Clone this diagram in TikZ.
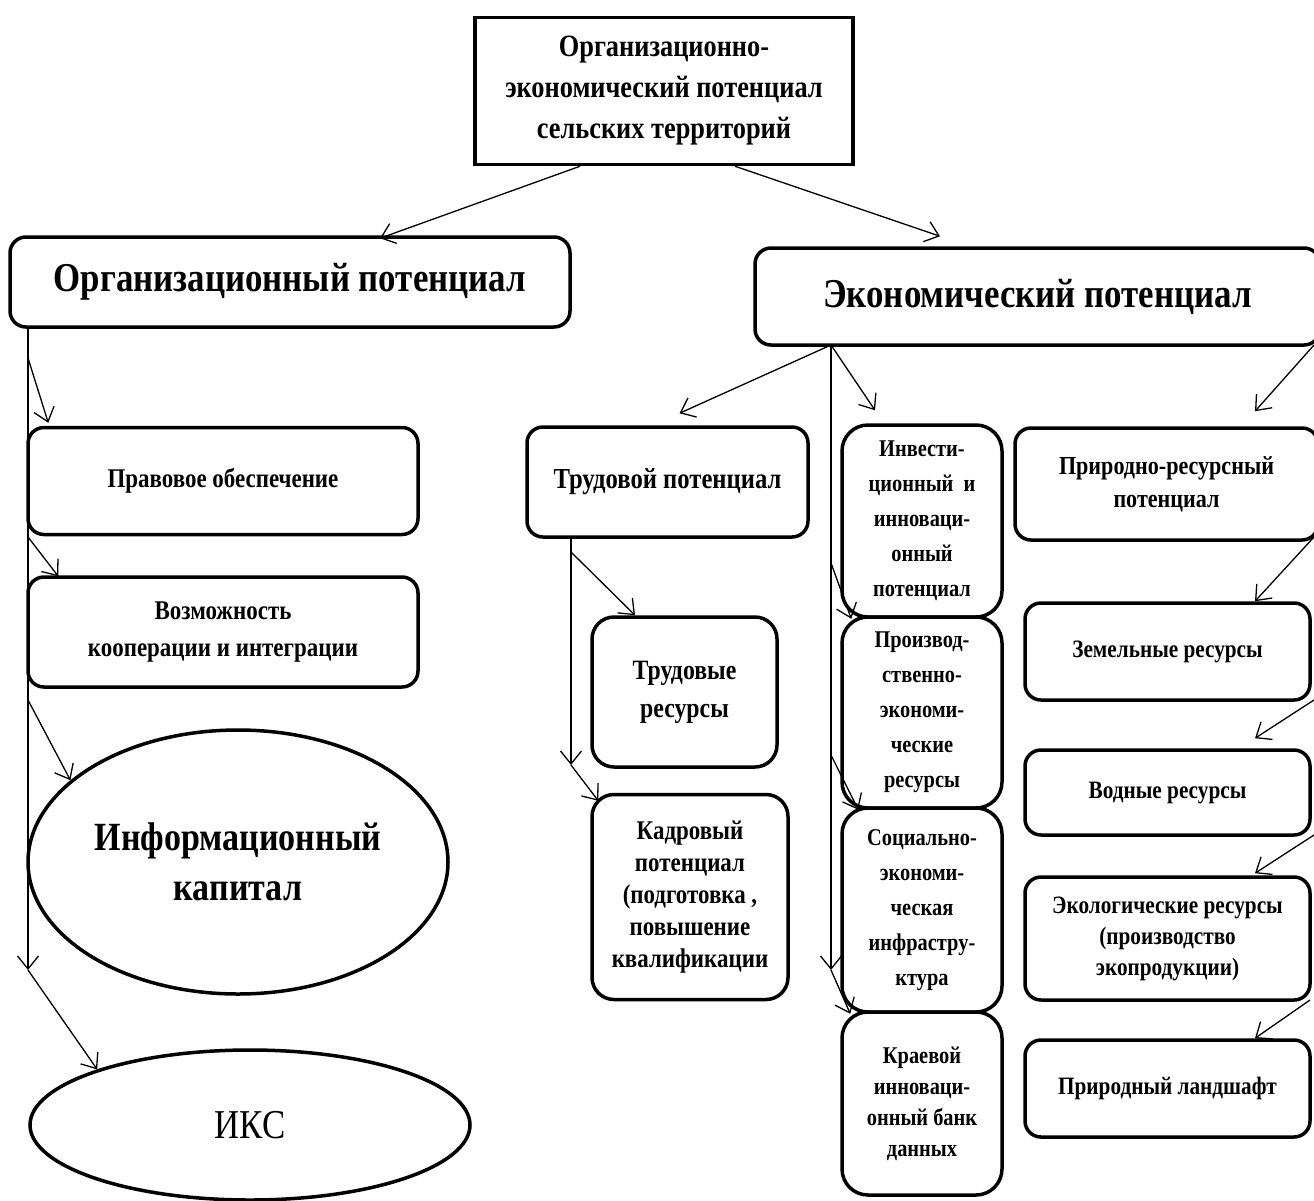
\documentclass[tikz,border=0pt]{standalone}
\usepackage{fontspec}
\setmainfont[FakeStretch=0.85]{Liberation Serif}
\usetikzlibrary{arrows.meta,shapes.geometric}
\newcommand\bfsz[2]{\bfseries\fontsize{#1}{#2}\selectfont}
\tikzset{
	sqbox/.style={draw, line width=3.5pt, align=center, inner sep=0pt},
	rbox/.style={sqbox, rounded corners=16pt},
	cbox/.style={sqbox, rounded corners=26pt, font=\bfsz{24}{35}, minimum width=160pt},
	pbox/.style={rbox, font=\bfsz{25}{31}, minimum width=285pt},
	oval/.style={draw, ellipse, line width=3.5pt, align=center, inner sep=0pt},
	arr/.style={line width=1.3pt, -{Straight Barb[length=13pt,width=21pt]}}
}

\begin{document}
\begin{tikzpicture}[x=1pt, y=-1pt]
		%%%%% START %%%%%
		\useasboundingbox (0, 0) rectangle (1314, 1200);
		
		\node[sqbox, font=\bfsz{31}{41}, minimum width=378pt, minimum height=147pt] (top) at (664, 91) {Организационно-\\экономический потенциал\\сельских территорий};
		
		\node[rbox, font=\bfsz{41}{48}, minimum width=560pt, minimum height=90pt] (org) at (290, 282) {Организационный потенциал};
		\node[rbox, font=\bfsz{41}{48}, minimum width=565pt, minimum height=97pt] (econ) at (1037.5, 296.5) {Экономический потенциал};
		
		% organisational side
		\node[rbox, font=\bfsz{27}{37}, minimum width=390pt, minimum height=107pt] (prav) at (223, 481) {Правовое обеспечение};
		\node[rbox, font=\bfsz{27}{37}, minimum width=390pt, minimum height=110pt] (vozm) at (223, 632) {Возможность\\кооперации и интеграции};
		\node[oval, font=\bfsz{40}{50}, minimum width=420pt, minimum height=264pt] (info) at (238, 862) {Информационный\\капитал};
		\node[oval, font=\fontsize{41}{46}\selectfont, minimum width=440pt, minimum height=150pt] (iks) at (250, 1125) {ИКС};
		
		% labour
		\node[rbox, font=\bfsz{29}{38}, minimum width=281pt, minimum height=110pt] (trud) at (667.5, 482) {Трудовой потенциал};
		\node[rbox, font=\bfsz{28}{38}, minimum width=185pt, minimum height=150pt, rounded corners=22pt] (trres) at (684.5, 692) {Трудовые\\ресурсы};
		\node[rbox, font=\bfsz{27}{32}, minimum width=196pt, minimum height=205pt, rounded corners=22pt] (kadr) at (690, 897) {Кадровый\\потенциал\\(подготовка ,\\повышение\\квалификации};
		
		% economic column
		\node[cbox, minimum height=192pt] (inv) at (922, 521) {Инвести-\\ционный~~и\\инноваци-\\онный\\потенциал};
		\node[cbox, minimum height=191pt] (proizv) at (922, 712.5) {Производ-\\ственно-\\экономи-\\ческие\\ресурсы};
		\node[cbox, minimum height=204pt] (soc) at (922, 910) {Социально-\\экономи-\\ческая\\инфрастру-\\ктура};
		\node[cbox, minimum height=183pt, font=\bfsz{24}{31}] (kraev) at (922, 1103.5) {Краевой\\инноваци-\\онный банк\\данных};
		
		% natural resources
		\node[pbox, font=\bfsz{26}{33}, minimum width=303pt, minimum height=112pt] (prir) at (1166.5, 484) {Природно-ресурсный\\потенциал};
		\node[pbox, minimum height=97pt] (zem) at (1167.5, 651.5) {Земельные ресурсы};
		\node[pbox, minimum height=85pt] (vod) at (1167.5, 792.5) {Водные ресурсы};
		\node[pbox, minimum height=123pt] (eko) at (1167.5, 938.5) {Экологические ресурсы\\(производство\\экопродукции)};
		\node[pbox, minimum height=97pt] (land) at (1167.5, 1088.5) {Природный ландшафт};
		
		% top arrows
		\draw[arr] ([xshift=-84pt]top.south) -- ([xshift=90pt, yshift=-3pt]org.north);
		\draw[arr] ([xshift=71pt]top.south) -- ([xshift=-97.5pt, yshift=10pt]econ.north);
		
		% organisational trunk
		\coordinate (o0) at (28, 327);
		\coordinate (o1) at (28, 358);
		\coordinate (o2) at (28, 537);
		\coordinate (o3) at (28, 700);
		\coordinate (o4) at (28, 970);
		\draw[arr] (o0) -- (o4);
		\draw[arr] (o1) -- ([xshift=22pt, yshift=3pt]prav.north west);
		\draw[arr] (o2) -- ([xshift=32pt, yshift=-1pt]vozm.north west);
		\draw[arr] (o3) -- (info.154);
		\draw[arr] (o4) -- (iks.160);
		
		% labour trunk
		\coordinate (t0) at (571, 537);
		\coordinate (t1) at (571, 552);
		\coordinate (t2) at (571, 765);
		\draw[arr] (t0) -- (t2);
		\draw[arr] (t1) -- ([xshift=-49.5pt]trres.north);
		\draw[arr] (t2) -- ([xshift=8pt, yshift=-8pt]kadr.north west);
		
		% economic trunk
		\coordinate (e0) at (831, 345);
		\coordinate (e1) at (831, 563);
		\coordinate (e2) at (831, 755);
		\coordinate (e3) at (831, 970);
		\draw[arr] (e0) -- (e3);
		\draw[arr] (e0) -- ([xshift=12pt, yshift=12pt]trud.north);
		\draw[arr] (e0) -- ([xshift=-47pt, yshift=13pt]inv.north);
		\draw[arr] (e1) -- ([xshift=11pt]inv.south west);
		\draw[arr] (e2) -- ([xshift=18pt]proizv.south west);
		\draw[arr] (e3) -- ([xshift=10pt]soc.south west);
		
		% natural resources chain
		\coordinate (r0) at (1314, 345);
		\coordinate (r1) at (1314, 537);
		\coordinate (r2) at (1314, 700);
		\coordinate (r3) at (1314, 835);
		\coordinate (r4) at (1310, 1000);
		\draw[arr] (r0) -- ([xshift=88.5pt, yshift=15pt]prir.north);
		\draw[arr] (r1) -- ([xshift=87.5pt]zem.north);
		\draw[arr] (r2) -- ([xshift=87.5pt, yshift=10pt]vod.north);
		\draw[arr] (r3) -- ([xshift=87.5pt, yshift=2pt]eko.north);
		\draw[arr] (r4) -- ([xshift=87.5pt]land.north);
		%%%%% END %%%%%
	\end{tikzpicture}
\end{document}
